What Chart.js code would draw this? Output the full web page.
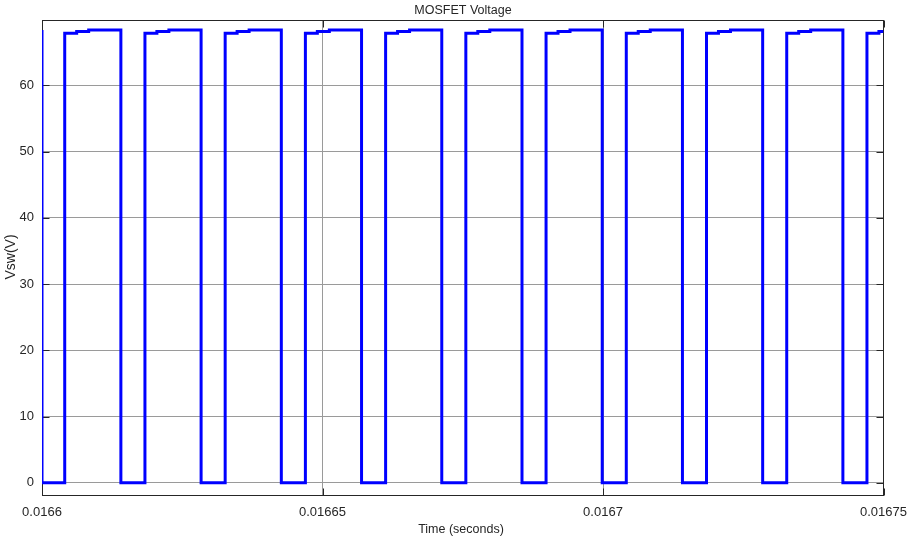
<!DOCTYPE html>
<html>
<head>
<meta charset="utf-8">
<script src="https://cdn.jsdelivr.net/npm/chart.js@4.4.1/dist/chart.umd.min.js"></script>
<style>
  html, body { margin: 0; padding: 0; background: #ffffff; }
  #wrap { width: 916px; height: 542px; }
</style>
</head>
<body>
<div id="wrap"><canvas id="c" width="916" height="542"></canvas></div>
<script>
// ---- data ----
const chartTitle = "MOSFET Voltage";
const xAxisLabel = "Time (seconds)";
const yAxisLabel = "Vsw(V)";

// switching-node voltage, stepped (value holds until the next time)
const timeS = [
  0.0166, 0.0166,
  0.01660405, 0.01660618, 0.01660832, 0.01661406,
  0.01661835, 0.01662048, 0.01662262, 0.01662836,
  0.01663265, 0.01663478, 0.01663692, 0.01664266,
  0.01664695, 0.01664908, 0.01665122, 0.01665696,
  0.01666125, 0.01666338, 0.01666552, 0.01667126,
  0.01667555, 0.01667768, 0.01667982, 0.01668556,
  0.01668985, 0.01669198, 0.01669412, 0.01669986,
  0.01670415, 0.01670628, 0.01670842, 0.01671416,
  0.01671845, 0.01672058, 0.01672272, 0.01672846,
  0.01673275, 0.01673488, 0.01673702, 0.01674276,
  0.01674705, 0.01674918, 0.01675
];
const vswV = [
  68.35, 0,
  67.85, 68.1, 68.35, 0,
  67.85, 68.1, 68.35, 0,
  67.85, 68.1, 68.35, 0,
  67.85, 68.1, 68.35, 0,
  67.85, 68.1, 68.35, 0,
  67.85, 68.1, 68.35, 0,
  67.85, 68.1, 68.35, 0,
  67.85, 68.1, 68.35, 0,
  67.85, 68.1, 68.35, 0,
  67.85, 68.1, 68.35, 0,
  67.85, 68.1, 68.1
];

const xTickValues = [0.0166, 0.01665, 0.0167, 0.01675];
const xTickLabels = ["0.0166", "0.01665", "0.0167", "0.01675"];
const yTickValues = [0, 10, 20, 30, 40, 50, 60];
const yTickLabels = ["0", "10", "20", "30", "40", "50", "60"];
const xMin = 0.0166, xMax = 0.01675;
const yMin = -2, yMax = 69.85;

// ---- styles ----
const AXIS = '#262626';
const GRID = '#9a9a9a';
const FONT = 'Liberation Sans, Arial, Helvetica, sans-serif';

const frame = {
  id: 'frame',
  beforeDatasetsDraw(chart) {
    const { ctx, chartArea: a, scales } = chart;
    const L = Math.round(a.left) + 0.5, R = Math.round(a.right) - 0.5;
    const T = Math.round(a.top) + 0.5, B = Math.round(a.bottom) - 0.5;
    const tl = 7;
    ctx.save();
    ctx.strokeStyle = AXIS;
    ctx.lineWidth = 1;
    ctx.beginPath();
    yTickValues.forEach(v => {
      const y = Math.round(scales.y.getPixelForValue(v)) + 0.5;
      ctx.moveTo(L, y); ctx.lineTo(L + tl, y);
      ctx.moveTo(R, y); ctx.lineTo(R - tl, y);
    });
    xTickValues.forEach(v => {
      const x = Math.round(scales.x.getPixelForValue(v)) + 0.5;
      ctx.moveTo(x, B); ctx.lineTo(x, B - tl);
      ctx.moveTo(x, T); ctx.lineTo(x, T + tl);
    });
    ctx.stroke();
    ctx.strokeRect(L, T, R - L, B - T);
    ctx.restore();
  },
  afterDraw(chart) {
    const { ctx } = chart;
    ctx.save();
    ctx.fillStyle = AXIS;
    ctx.textAlign = 'center';
    ctx.textBaseline = 'middle';
    ctx.font = '12.5px ' + FONT;
    ctx.fillText(chartTitle, 463, 10.5);
    ctx.font = '12.5px ' + FONT;
    ctx.fillText(xAxisLabel, 461, 530);
    ctx.translate(11, 257);
    ctx.rotate(-Math.PI / 2);
    ctx.font = '14px ' + FONT;
    ctx.fillText(yAxisLabel, 0, 0);
    ctx.restore();
  }
};

new Chart(document.getElementById('c'), {
  type: 'line',
  data: {
    datasets: [{
      label: 'Vsw',
      data: timeS.map((t, i) => ({ x: t, y: vswV[i] })),
      borderColor: '#0000ff',
      borderWidth: 3,
      stepped: 'before',
      pointRadius: 0,
      fill: false,
      tension: 0,
      borderJoinStyle: 'miter',
      borderCapStyle: 'butt'
    }]
  },
  options: {
    responsive: false,
    animation: false,
    devicePixelRatio: 1,
    layout: { padding: { left: 0, right: 30, top: 20, bottom: 0 } },
    plugins: { legend: { display: false }, title: { display: false }, tooltip: { enabled: false } },
    scales: {
      x: {
        type: 'linear',
        min: xMin, max: xMax,
        afterBuildTicks(scale) { scale.ticks = xTickValues.map(v => ({ value: v })); },
        afterFit(scale) { scale.height = 46; },
        grid: { color: GRID, lineWidth: 1, drawTicks: false },
        border: { display: false },
        ticks: {
          autoSkip: false, maxRotation: 0, minRotation: 0, padding: 9,
          color: AXIS, font: { family: FONT, size: 13 },
          callback: (v) => { const i = xTickValues.findIndex(t => Math.abs(t - v) < 1e-9); return i >= 0 ? xTickLabels[i] : ''; }
        }
      },
      y: {
        type: 'linear',
        min: yMin, max: yMax,
        afterBuildTicks(scale) { scale.ticks = yTickValues.map(v => ({ value: v })); },
        afterFit(scale) { scale.width = 42; },
        grid: { color: GRID, lineWidth: 1, drawTicks: false },
        border: { display: false },
        ticks: {
          autoSkip: false, padding: 8,
          color: AXIS, font: { family: FONT, size: 13 },
          callback: (v) => { const i = yTickValues.indexOf(v); return i >= 0 ? yTickLabels[i] : ''; }
        }
      }
    }
  },
  plugins: [frame]
});
</script>
</body>
</html>
